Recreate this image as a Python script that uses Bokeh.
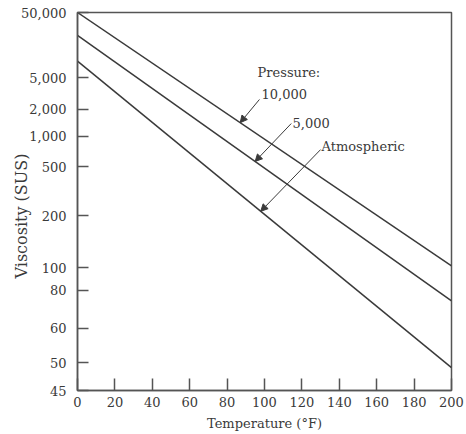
import numpy as np
from bokeh.plotting import figure
from bokeh.models import (Range1d, FixedTicker, Label, Arrow, NormalHead,
                          CustomJSTickFormatter, Title)
from bokeh.embed import file_html
from bokeh.resources import INLINE

# ---- data ----
temps = [0, 200]                      # Temperature (°F)
visc_10000 = [50000, 102]             # Pressure 10,000
visc_5000 = [21000, 73]               # Pressure 5,000
visc_atm = [8600, 49]                 # Atmospheric

x_ticks = [0, 20, 40, 60, 80, 100, 120, 140, 160, 180, 200]
y_ticks = [45, 50, 60, 80, 100, 200, 500, 1000, 2000, 5000, 50000]
y_tick_labels = ["45", "50", "60", "80", "100", "200", "500", "1,000",
                 "2,000", "5,000", "50,000"]

series_names = ["10,000", "5,000", "Atmospheric"]
arrow_temps = [87, 95, 98]            # where each leader arrow touches its line
label_temps = [98.4, 115, 130.5]      # label anchor (temperature)
label_visc = [3050, 1410, 778]        # label anchor (viscosity)
tail_temps = [97.3, 114.3, 130]
tail_visc = [2640, 1373, 727]

OFFSET = 30.0
def ty(v):
    """Viscosity-chart scale: log(log(SUS - offset))."""
    return np.log10(np.log10(np.asarray(v, dtype=float) - OFFSET))

FONT = "DejaVu Serif"
INK = "#3a3a3a"
AXIS = "#555555"

p = figure(width=466, height=434, output_backend="svg", toolbar_location=None,
           x_range=Range1d(0, 200), y_range=Range1d(float(ty(45)), float(ty(50000))),
           min_border=0, min_border_left=77, min_border_right=15,
           min_border_top=12, min_border_bottom=44)
p.background_fill_color = "white"
p.border_fill_color = "white"
p.outline_line_color = AXIS
p.outline_line_width = 1.5
p.xgrid.visible = False
p.ygrid.visible = False

# axes
p.xaxis.ticker = FixedTicker(ticks=x_ticks)
ypos = [float(t) for t in ty(y_ticks)]
p.yaxis.ticker = FixedTicker(ticks=ypos)
p.yaxis.formatter = CustomJSTickFormatter(args=dict(pos=ypos, labels=y_tick_labels), code="""
let best = 0, bd = Infinity;
for (let i = 0; i < pos.length; i++) {
  const d = Math.abs(pos[i] - tick);
  if (d < bd) { bd = d; best = i; }
}
return labels[best];
""")
for ax in (p.xaxis, p.yaxis):
    ax.axis_line_color = AXIS
    ax.axis_line_width = 1.5
    ax.major_tick_line_color = AXIS
    ax.major_tick_line_width = 1.5
    ax.major_tick_out = 0
    ax.minor_tick_line_color = None
    ax.major_label_text_font = FONT
    ax.major_label_text_font_size = "13px"
    ax.major_label_text_color = INK
p.xaxis.major_tick_in = 12
p.yaxis.major_tick_in = 11
p.xaxis.major_label_standoff = 6
p.yaxis.major_label_standoff = 11

p.xaxis.axis_label = "Temperature (°F)"
p.xaxis.axis_label_standoff = 6
p.xaxis.axis_label_text_font = FONT
p.xaxis.axis_label_text_font_size = "13px"
p.xaxis.axis_label_text_font_style = "normal"
p.xaxis.axis_label_text_color = INK

# y-axis title (placed as a left-side title so it can sit below the frame centre)
p.add_layout(Title(text="Viscosity (SUS)", align="left", offset=112, standoff=-24,
                   text_font=FONT, text_font_size="16px", text_font_style="normal",
                   text_color=INK), "left")

# data lines
all_visc = [visc_10000, visc_5000, visc_atm]
for v in all_visc:
    p.line(temps, ty(v), line_color=INK, line_width=1.5)

# annotations
p.add_layout(Label(x=96.3, y=float(ty(5960)), text="Pressure:", text_align="left",
                   text_baseline="middle", text_font=FONT, text_font_size="13px",
                   text_color=INK))
for name, v, at, lx, lv, tx, tv in zip(series_names, all_visc, arrow_temps,
                                       label_temps, label_visc, tail_temps, tail_visc):
    tip_y = float(np.interp(at, temps, ty(v)))
    p.add_layout(Arrow(end=NormalHead(size=7, fill_color=INK, line_color=INK, line_width=1),
                       x_start=tx, y_start=float(ty(tv)), x_end=at, y_end=tip_y,
                       line_color=INK, line_width=1))
    p.add_layout(Label(x=lx, y=float(ty(lv)), text=name, text_align="left",
                       text_baseline="middle", text_font=FONT, text_font_size="13px",
                       text_color=INK))

open("out.html", "w").write(file_html(p, INLINE))
